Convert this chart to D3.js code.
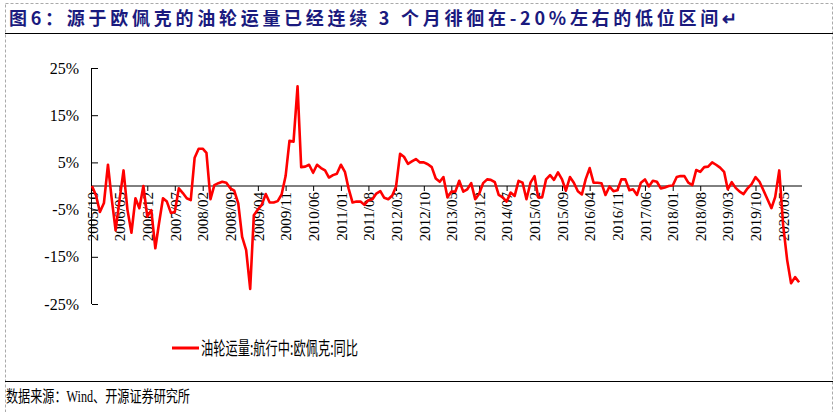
<!DOCTYPE html>
<html>
<head>
<meta charset="utf-8">
<script src="https://cdn.jsdelivr.net/npm/d3@7"></script>
<style>
  body { margin: 0; background: #fff; }
</style>
</head>
<body>
<div id="container"></div>
<script>
/* DATA */
const startMonth = "2005-10";
const yoyValues = [
  0, -2, -5.5, -3.6, 4.5, -2.5, -9.4, -3, 3.3, -5,
  -9.9, -2.6, -4.7, 0, -6.5, -5.1, -13.2, -8, -2.6, -3.3,
  -5.7, -5.5, -0.5, -1.5, -2.6, -3, 6, 7.9, 7.9, 7,
  -2.8, 0.2, 0.6, 0.9, 0.7, -0.5, -1, -3.7, -10.8, -13.6,
  -21.8, -6.2, -5, -4, -1.7, -3.5, -3.5, -3.2, -1.8, 2.1,
  9.6, 9.4, 21.1, 4, 4.1, 4.5, 2.8, 4.5, 3.8, 3.3,
  1.8, 2.3, 2.6, 4.5, 3, -0.5, -3.5, -3.3, -3.3, -4,
  -3, -2.8, -1.6, -1.1, -2.5, -2.8, -2, -0.1, 6.8, 6.2,
  4.7, 5.2, 5.7, 5, 5, 4.6, 4, 1.6, 0.9, 1.9,
  -2.4, -1.2, -1.2, 1.1, -1.2, -0.7, 0.6, -2.8, -1.7, 0.6,
  1.4, 1.3, 0.8, -1.9, -2.4, -3.3, -1.4, -2.1, 1.1, 0.7,
  -2.8, 0.7, 2.1, -2.4, -2.4, 1.4, 2.3, 1.3, 2.9, 1.4,
  -1, 1.9, 0.7, -1.1, -1.8, 1.4, 3.8, 0.7, 0.7, 0.6,
  -1.9, -0.1, -1.1, -0.9, 1.4, 1.4, -0.9, -0.7, -1.9, 0.7,
  1.4, -0.1, 1.1, 0.9, -0.5, -0.3, 0, 0.1, 1.9, 2.1,
  2.1, 0.7, 0.2, 3.4, 3, 4, 4.1, 5, 4.5, 3.9,
  3, -0.7, 0.8, -0.4, -1.2, -1.7, -0.5, 0.4, 1.9, 0.9,
  -0.9, -2.8, -4.7, -2.3, 3.3, -8.3, -15.7, -20.6, -19.3, -20.4
];
const yTicks = [25, 15, 5, -5, -15, -25];
const seriesName = "油轮运量:航行中:欧佩克:同比";
const titleText = "图6：源于欧佩克的油轮运量已经连续 3 个月徘徊在-20%左右的低位区间↵";
const sourceText = "数据来源：Wind、开源证券研究所";

/* CONSTANTS */
const width = 838, height = 412;
const parse = d3.timeParse("%Y-%m");
const t0 = parse(startMonth);
const data = yoyValues.map((v, i) => ({ date: d3.timeMonth.offset(t0, i), v }));

const svg = d3.select("#container").append("svg")
  .attr("width", width).attr("height", height);

// frame
svg.append("rect").attr("x", 5.5).attr("y", 3.5).attr("width", 827).attr("height", 420)
  .attr("fill", "none").attr("stroke", "#aaa").attr("stroke-dasharray", "3,2");
svg.append("line").attr("x1", 5).attr("x2", 833).attr("y1", 33.5).attr("y2", 33.5).attr("stroke", "#000");
svg.append("line").attr("x1", 5).attr("x2", 833).attr("y1", 381.5).attr("y2", 381.5).attr("stroke", "#000");

svg.append("text").attr("x", 9).attr("y", 25)
  .attr("font-family", "Noto Sans CJK SC").attr("font-weight", "bold").attr("font-size", 18)
  .attr("fill", "#1a1a7e").attr("textLength", 728).attr("lengthAdjust", "spacing")
  .text(titleText);

// SCALES
const x = d3.scaleTime()
  .domain([t0, d3.timeMonth.offset(t0, 180)])
  .range([92, 92 + 180 * 3.95]);
const y = d3.scaleLinear().domain([-25, 25]).range([304, 68]);

// Y AXIS
const yAxis = svg.append("g").attr("transform", "translate(92,0)")
  .call(d3.axisLeft(y).tickValues(yTicks).tickSize(6).tickFormat(d => d + "%"));
yAxis.select(".domain").attr("d", `M-0.5,${y(25)}V${y(-25)}`).attr("stroke", "#000");
yAxis.selectAll(".tick line").attr("x2", 0).attr("x1", 6).attr("stroke", "#000");
yAxis.selectAll("text").attr("x", -13)
  .attr("font-family", "Liberation Serif").attr("font-size", 16).attr("fill", "#000");

// X AXIS at zero
const xTicks = d3.range(0, 176, 7).map(i => d3.timeMonth.offset(t0, i));
const xAxis = svg.append("g").attr("transform", `translate(0,${y(0)})`)
  .call(d3.axisBottom(x).tickValues(xTicks).tickSize(5).tickFormat(d3.timeFormat("%Y/%m")));
xAxis.select(".domain").attr("d", `M92,0H802`).attr("stroke", "#000");
xAxis.selectAll(".tick line").attr("stroke", "#000");
xAxis.selectAll("text")
  .attr("transform", "rotate(-90)").attr("text-anchor", "end")
  .attr("x", -6).attr("y", 0).attr("dy", "0.35em")
  .attr("font-family", "Liberation Serif").attr("font-size", 15).attr("fill", "#000");

// LINE
svg.append("path").datum(data)
  .attr("fill", "none").attr("stroke", "#ff0000").attr("stroke-width", 2.6)
  .attr("stroke-linejoin", "round")
  .attr("d", d3.line().x(d => x(d.date)).y(d => y(d.v)));

// LEGEND
svg.append("line").attr("x1", 172).attr("x2", 199).attr("y1", 348).attr("y2", 348)
  .attr("stroke", "#ff0000").attr("stroke-width", 3);
svg.append("text").attr("x", 201).attr("y", 355)
  .attr("font-family", "Noto Sans CJK SC").attr("font-size", 18).attr("fill", "#000")
  .attr("textLength", 157).attr("lengthAdjust", "spacingAndGlyphs").text(seriesName);

// SOURCE
svg.append("text").attr("x", 6).attr("y", 402)
  .attr("font-family", "Liberation Serif, Noto Sans CJK SC").attr("font-size", 16).attr("fill", "#000")
  .attr("textLength", 184).attr("lengthAdjust", "spacingAndGlyphs").text(sourceText);
</script>
</body>
</html>
